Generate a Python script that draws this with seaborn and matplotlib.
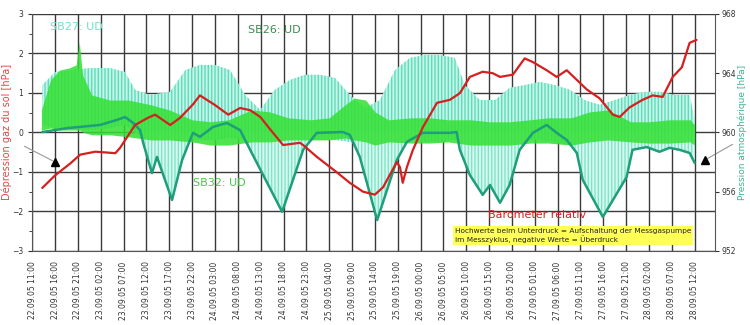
import numpy as np
import pandas as pd
import matplotlib
matplotlib.use("Agg")
import matplotlib.pyplot as plt
import seaborn as sns

# --- data (hours since 22.09.05 11:00) ---
start = pd.Timestamp("2005-09-22 11:00")

# Barometer relativ (right axis, hPa)
baro_h = [2.2, 5.0, 8.3, 10.5, 13.8, 18.2, 19.2, 22.5, 25.4, 26.9, 30.2, 32.4, 35.2, 36.7,
          40.0, 42.9, 45.5, 47.7, 49.9, 52.1, 54.9, 58.6, 59.3, 62.3, 66.7, 69.5, 72.4, 75.0,
          76.8, 79.8, 80.5, 81.1, 82.0, 83.3, 85.5, 88.6, 91.4, 93.6, 95.8, 98.6, 100.8, 102.4,
          105.2, 107.8, 109.6, 112.6, 114.8, 117.0, 119.2, 121.4, 124.2, 127.1, 128.6, 130.8,
          133.6, 135.8, 138.0, 140.2, 142.2, 143.9, 145.4]
baro_v = [956.25, 957.1, 957.9, 958.5, 958.7, 958.6, 958.95, 960.5, 961.0, 961.2, 960.5, 961.0,
          961.9, 962.5, 961.85, 961.2, 961.65, 961.5, 961.05, 960.2, 959.15, 959.3, 959.15,
          958.35, 957.3, 956.6, 956.0, 955.8, 956.3, 958.0, 957.65, 956.6, 957.65, 958.8,
          960.35, 962.0, 962.2, 962.65, 963.75, 964.1, 964.0, 963.75, 963.9, 965.0, 964.75,
          964.2, 963.75, 964.2, 963.55, 962.9, 962.3, 961.2, 961.05, 961.7, 962.2, 962.5,
          962.4, 963.75, 964.4, 966.05, 966.25]

# SB26: UD (left axis, hPa)
sb26_h = [2.2, 7.7, 14.9, 18.6, 20.3, 22.1, 23.6, 24.3, 26.2, 27.3, 30.6, 32.8, 34.1, 35.2,
          36.7, 39.6, 42.6, 45.5, 47.7, 54.7, 59.3, 62.3, 68.0, 69.5, 71.7, 75.5, 79.8, 82.0,
          85.5, 91.4, 92.9, 93.6, 95.8, 98.6, 100.2, 102.4, 104.5, 106.7, 109.6, 112.6, 114.8,
          117.0, 119.2, 120.5, 124.9, 130.1, 131.4, 134.5, 137.3, 139.5, 141.7, 143.9, 145.0]
sb26_v = [0.01, 0.11, 0.19, 0.32, 0.39, 0.24, 0.06, -0.27, -1.03, -0.62, -1.71, -0.70, -0.32,
          -0.01, -0.11, 0.14, 0.24, 0.06, -0.44, -2.01, -0.44, -0.01, 0.01, -0.06, -0.62,
          -2.22, -0.70, -0.24, -0.01, -0.01, 0.01, -0.44, -1.08, -1.58, -1.33, -1.78, -1.33,
          -0.44, -0.01, 0.19, -0.01, -0.19, -0.52, -1.20, -2.14, -1.13, -0.44, -0.37, -0.49,
          -0.39, -0.44, -0.52, -0.77]

# SB27: UD band (left axis, envelope of the readings)
sb27_h = [2.2, 5.0, 8.3, 12.7, 17.1, 20.3, 22.5, 25.8, 30.2, 33.5, 36.7, 40.0, 43.3, 46.6,
          49.9, 53.1, 56.4, 59.7, 63.0, 66.3, 69.5, 72.8, 76.1, 79.4, 82.7, 85.9, 89.2, 92.5,
          94.7, 98.0, 101.3, 104.5, 107.8, 111.1, 114.4, 117.7, 120.9, 124.2, 127.5, 130.8,
          134.1, 137.3, 140.6, 143.9, 145.0]
sb27_hi = [1.20, 1.53, 1.58, 1.63, 1.63, 1.53, 1.08, 0.95, 1.03, 1.58, 1.71, 1.71, 1.58, 0.95,
           0.57, 1.08, 1.33, 1.46, 1.46, 1.38, 0.95, 0.62, 0.82, 1.58, 1.89, 1.96, 1.96, 1.89,
           1.20, 0.82, 0.82, 1.13, 1.20, 1.28, 1.20, 1.08, 0.82, 0.70, 0.82, 0.95, 1.03, 1.03,
           0.95, 0.95, 0.32]
sb27_lo = [0.19, 0.11, 0.11, 0.06, 0.11, 0.19, -0.01, -0.19, -0.24, -0.14, -0.19, -0.19, -0.14,
           -0.19, -0.24, -0.32, -0.24, -0.19, -0.19, -0.19, -0.24, -0.32, -0.24, -0.19, -0.19,
           -0.24, -0.24, -0.19, -0.32, -0.32, -0.32, -0.24, -0.19, -0.19, -0.24, -0.32, -0.32,
           -0.24, -0.32, -0.32, -0.24, -0.24, -0.24, -0.32, -0.44]

# SB32: UD band (left axis, envelope of the readings)
sb32_h = [2, 4, 6, 8, 9.6, 10.3, 11, 13, 17, 21, 26, 30, 35, 39, 43, 48, 52, 56, 61, 65, 68.5,
          70.5, 73, 75, 78, 83, 87, 91, 96, 100, 104.5, 109, 113, 118, 122, 126, 131, 135,
          139.5, 144, 145]
sb32_hi = [0.57, 1.33, 1.58, 1.63, 1.71, 2.29, 1.46, 0.95, 0.82, 0.82, 0.70, 0.57, 0.32, 0.27,
           0.32, 0.57, 0.52, 0.37, 0.32, 0.37, 0.70, 0.87, 0.82, 0.52, 0.32, 0.37, 0.37, 0.32,
           0.32, 0.27, 0.27, 0.32, 0.37, 0.37, 0.52, 0.57, 0.27, 0.27, 0.32, 0.32, 0.19]
sb32_lo = [0.06, 0.11, 0.06, 0.06, 0.06, 0.06, 0.01, -0.06, -0.06, -0.11, -0.19, -0.19, -0.24,
           -0.32, -0.32, -0.24, -0.24, -0.19, -0.19, -0.19, -0.14, -0.19, -0.24, -0.32, -0.24,
           -0.27, -0.27, -0.24, -0.32, -0.32, -0.32, -0.27, -0.27, -0.32, -0.24, -0.19, -0.24,
           -0.27, -0.27, -0.24, -0.32]

tick_hours = list(range(0, 150, 5))
tick_labels = [(start + pd.Timedelta(hours=h)).strftime("%d.%m.%y %H:%M") for h in tick_hours]

# --- plotting ---
sns.set_style("white")
plt.rcParams["font.family"] = ["DejaVu Sans"]

fig, ax = plt.subplots(figsize=(7.5, 3.25), dpi=100)
fig.subplots_adjust(left=0.043, right=0.953, top=0.957, bottom=0.228)

# SB27 band
ax.fill_between(sb27_h, sb27_lo, sb27_hi, facecolor="#c4f5e8", edgecolor="#5fdcbc",
                hatch="|||||", linewidth=0, zorder=2)
# fill inside SB26 dips
h26 = np.array(sb26_h)
v26 = np.array(sb26_v)
ax.fill_between(h26, v26, 0, where=v26 < 0, interpolate=True, facecolor="#d8f8ef",
                edgecolor="#7ee6c8", hatch="|||||", linewidth=0, zorder=2)
# SB32 band
ax.fill_between(sb32_h, sb32_lo, sb32_hi, color="#33e033", alpha=0.85, linewidth=0, zorder=3)

sns.lineplot(x=sb26_h, y=sb26_v, ax=ax, color="#1e9e7a", linewidth=1.8, zorder=4)

ax.set_xlim(0, 149.4)
ax.set_ylim(-3, 3)
ax.set_xticks(tick_hours)
ax.set_xticklabels(tick_labels, rotation=90, fontsize=5.5, color="#333333")
ax.set_xticks(np.arange(0, 150, 1), minor=True)
ax.set_yticks(range(-3, 4))
ax.set_yticks(np.arange(-3, 3.01, 0.5), minor=True)
ax.tick_params(axis="y", labelsize=5.5, colors="#333333", length=3, direction="out")
ax.tick_params(axis="x", which="major", length=4, direction="out")
ax.tick_params(axis="x", which="minor", length=2, direction="out")
ax.tick_params(axis="y", which="minor", length=2, direction="out")
ax.grid(True, which="major", color="#3a3a3a", linewidth=1.0, zorder=1)
ax.set_axisbelow(True)
ax.set_ylabel("Dépression gaz du sol [hPa]", color="#e04848", fontsize=7)
ax.yaxis.set_label_coords(-0.03, 0.5)
for s in ax.spines.values():
    s.set_visible(False)
ax.spines["left"].set_visible(True)
ax.spines["bottom"].set_visible(True)
ax.spines["left"].set_color("#555555")
ax.spines["bottom"].set_color("#555555")

ax2 = ax.twinx()
sns.lineplot(x=baro_h, y=baro_v, ax=ax2, color="#d42020", linewidth=1.6, zorder=5)
ax2.set_ylim(952, 968)
ax2.set_yticks(range(952, 969, 4))
ax2.tick_params(axis="y", labelsize=5.5, colors="#333333", length=3, pad=2)
ax2.set_ylabel("Pression atmosphérique [hPa]", color="#3fb58e", fontsize=6.5)
ax2.yaxis.set_label_coords(1.034, 0.5)
for s in ax2.spines.values():
    s.set_visible(False)
ax2.spines["right"].set_visible(True)
ax2.spines["right"].set_color("#555555")

# labels in the plot
ax.text(3.9, 2.67, "SB27: UD", color="#6fe3c6", fontsize=8, va="center", zorder=6)
ax.text(47.2, 2.6, "SB26: UD", color="#3a8a50", fontsize=8, va="center", zorder=6)
ax.text(35.2, -1.28, "SB32: UD", color="#44cc44", fontsize=8, va="center", zorder=6)
ax.text(99.7, -2.09, "Barometer relativ", color="#d42020", fontsize=8, va="center", zorder=6)
ax.text(92.5, -2.42,
        "Hochwerte beim Unterdruck = Aufschaltung der Messgaspumpe\n"
        "im Messzyklus, negative Werte = Überdruck",
        fontsize=5.3, va="top", ha="left", color="#222222", zorder=6,
        bbox=dict(facecolor="#ffff55", edgecolor="none", pad=1.5))

# arrows to the axes
ax.annotate("", xy=(5.0, -0.75), xytext=(22, 180), textcoords="figure pixels",
            arrowprops=dict(arrowstyle="-", color="#999999", lw=0.8), zorder=6)
ax.plot([5.0], [-0.75], marker="^", color="black", markersize=6, zorder=7, clip_on=False)
ax.annotate("", xy=(147.2, -0.70), xytext=(735, 182), textcoords="figure pixels",
            arrowprops=dict(arrowstyle="-", color="#999999", lw=0.8), zorder=6)
ax.plot([147.2], [-0.70], marker="^", color="black", markersize=6, zorder=7, clip_on=False)

fig.savefig("out.png", dpi=100)
